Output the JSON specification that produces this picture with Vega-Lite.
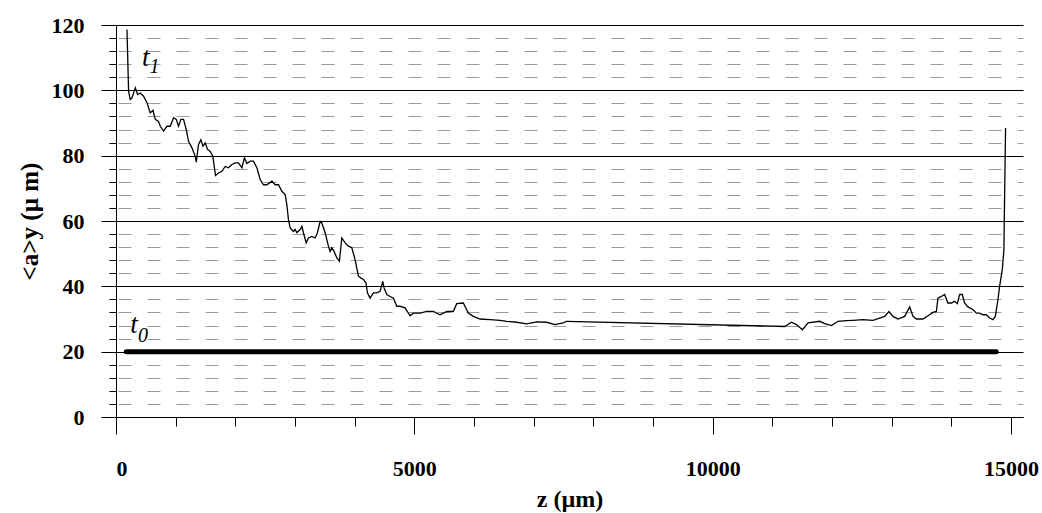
{
  "$schema": "https://vega.github.io/schema/vega-lite/v6.json",
  "autosize": {"type": "none"},
  "padding": {"left": 116, "top": 25, "right": 19, "bottom": 96},
  "width": 907,
  "height": 392,
  "background": "white",
  "config": {"view": {"stroke": null}, "font": "Liberation Serif"},
  "datasets": {
    "t1": [
      {"z": 184, "a": 118.6}, {"z": 211, "a": 99.7}, {"z": 239, "a": 97.2}, {"z": 268, "a": 97.7},
      {"z": 323, "a": 100.8}, {"z": 362, "a": 98.7}, {"z": 407, "a": 99.2}, {"z": 462, "a": 98.2},
      {"z": 519, "a": 96.2}, {"z": 574, "a": 93.1}, {"z": 620, "a": 93.9}, {"z": 658, "a": 91.1},
      {"z": 713, "a": 90.5}, {"z": 742, "a": 89.0}, {"z": 797, "a": 87.5}, {"z": 854, "a": 89.0},
      {"z": 909, "a": 89.0}, {"z": 965, "a": 91.6}, {"z": 1010, "a": 91.1}, {"z": 1048, "a": 89.0},
      {"z": 1088, "a": 91.1}, {"z": 1132, "a": 91.1}, {"z": 1177, "a": 88.0}, {"z": 1216, "a": 84.4},
      {"z": 1273, "a": 82.4}, {"z": 1328, "a": 79.8}, {"z": 1345, "a": 78.0}, {"z": 1383, "a": 83.4},
      {"z": 1423, "a": 84.9}, {"z": 1457, "a": 82.9}, {"z": 1495, "a": 83.9}, {"z": 1534, "a": 81.9},
      {"z": 1579, "a": 81.3}, {"z": 1624, "a": 79.8}, {"z": 1646, "a": 76.7}, {"z": 1668, "a": 73.9},
      {"z": 1718, "a": 74.7}, {"z": 1775, "a": 75.2}, {"z": 1830, "a": 76.7}, {"z": 1885, "a": 76.3},
      {"z": 1942, "a": 77.3}, {"z": 1998, "a": 77.8}, {"z": 2053, "a": 77.8}, {"z": 2110, "a": 76.3},
      {"z": 2153, "a": 79.3}, {"z": 2194, "a": 77.6}, {"z": 2249, "a": 78.3}, {"z": 2304, "a": 78.3},
      {"z": 2361, "a": 76.3}, {"z": 2416, "a": 72.7}, {"z": 2472, "a": 71.1}, {"z": 2528, "a": 71.1},
      {"z": 2612, "a": 72.2}, {"z": 2667, "a": 71.1}, {"z": 2723, "a": 71.1}, {"z": 2780, "a": 69.1},
      {"z": 2835, "a": 68.1}, {"z": 2863, "a": 65.0}, {"z": 2890, "a": 60.4}, {"z": 2919, "a": 57.9},
      {"z": 2974, "a": 56.8}, {"z": 3002, "a": 57.4}, {"z": 3031, "a": 56.4}, {"z": 3086, "a": 57.4},
      {"z": 3115, "a": 58.4}, {"z": 3141, "a": 56.4}, {"z": 3187, "a": 53.3}, {"z": 3225, "a": 54.8},
      {"z": 3282, "a": 55.3}, {"z": 3337, "a": 54.8}, {"z": 3376, "a": 56.4}, {"z": 3421, "a": 59.9},
      {"z": 3449, "a": 59.4}, {"z": 3505, "a": 56.4}, {"z": 3560, "a": 52.3}, {"z": 3588, "a": 50.7},
      {"z": 3617, "a": 51.8}, {"z": 3655, "a": 50.7}, {"z": 3701, "a": 48.7}, {"z": 3744, "a": 47.7},
      {"z": 3784, "a": 54.8}, {"z": 3840, "a": 53.3}, {"z": 3895, "a": 52.3}, {"z": 3952, "a": 51.8},
      {"z": 4007, "a": 48.2}, {"z": 4062, "a": 43.1}, {"z": 4102, "a": 42.6}, {"z": 4146, "a": 42.1},
      {"z": 4191, "a": 41.0}, {"z": 4213, "a": 38.0}, {"z": 4258, "a": 36.4}, {"z": 4313, "a": 38.0},
      {"z": 4370, "a": 38.0}, {"z": 4426, "a": 38.5}, {"z": 4471, "a": 41.5}, {"z": 4493, "a": 39.5},
      {"z": 4538, "a": 37.5}, {"z": 4593, "a": 36.9}, {"z": 4648, "a": 36.4}, {"z": 4705, "a": 33.9},
      {"z": 4761, "a": 33.9}, {"z": 4844, "a": 33.4}, {"z": 4928, "a": 31.0}, {"z": 4983, "a": 31.8},
      {"z": 5096, "a": 31.8}, {"z": 5208, "a": 32.3}, {"z": 5318, "a": 32.3}, {"z": 5430, "a": 31.3},
      {"z": 5543, "a": 32.3}, {"z": 5653, "a": 32.3}, {"z": 5710, "a": 34.7}, {"z": 5821, "a": 34.9},
      {"z": 5904, "a": 31.8}, {"z": 5988, "a": 30.8}, {"z": 6100, "a": 30.0}, {"z": 6268, "a": 29.8},
      {"z": 6435, "a": 29.6}, {"z": 6547, "a": 29.3}, {"z": 6715, "a": 29.0}, {"z": 6882, "a": 28.5},
      {"z": 7050, "a": 29.1}, {"z": 7217, "a": 29.0}, {"z": 7356, "a": 28.3}, {"z": 7495, "a": 28.8},
      {"z": 7552, "a": 29.3}, {"z": 11207, "a": 27.7}, {"z": 11320, "a": 29.0}, {"z": 11403, "a": 28.3},
      {"z": 11504, "a": 26.7}, {"z": 11598, "a": 28.8}, {"z": 11794, "a": 29.3}, {"z": 11877, "a": 28.6},
      {"z": 11990, "a": 28.0}, {"z": 12100, "a": 29.3}, {"z": 12241, "a": 29.5}, {"z": 12351, "a": 29.6},
      {"z": 12519, "a": 29.8}, {"z": 12686, "a": 29.6}, {"z": 12798, "a": 30.3}, {"z": 12882, "a": 30.8},
      {"z": 12954, "a": 32.3}, {"z": 13021, "a": 30.8}, {"z": 13105, "a": 30.0}, {"z": 13217, "a": 30.8},
      {"z": 13301, "a": 33.7}, {"z": 13356, "a": 30.8}, {"z": 13413, "a": 30.0}, {"z": 13523, "a": 30.0},
      {"z": 13635, "a": 31.3}, {"z": 13691, "a": 32.0}, {"z": 13748, "a": 32.3}, {"z": 13774, "a": 36.4},
      {"z": 13831, "a": 36.9}, {"z": 13886, "a": 37.5}, {"z": 13942, "a": 34.9}, {"z": 13999, "a": 34.9},
      {"z": 14054, "a": 35.4}, {"z": 14099, "a": 34.7}, {"z": 14138, "a": 37.5}, {"z": 14183, "a": 37.5},
      {"z": 14221, "a": 34.9}, {"z": 14277, "a": 33.7}, {"z": 14361, "a": 32.9}, {"z": 14418, "a": 31.8},
      {"z": 14473, "a": 31.8}, {"z": 14528, "a": 31.3}, {"z": 14585, "a": 31.3}, {"z": 14640, "a": 30.3},
      {"z": 14696, "a": 29.8}, {"z": 14736, "a": 30.8}, {"z": 14780, "a": 35.9}, {"z": 14808, "a": 40.0},
      {"z": 14853, "a": 45.1}, {"z": 14880, "a": 51.2}, {"z": 14891, "a": 66.6}, {"z": 14908, "a": 88.5}
    ],
    "t0": [{"z": 172, "a": 20}, {"z": 14752, "a": 20}],
    "tlabels": [
      {"z": 435, "a": 107.4, "label": "t"},
      {"z": 239, "a": 25.7, "label": "t"}
    ],
    "subs": [
      {"z": 563, "a": 105.4, "label": "1"},
      {"z": 368, "a": 23.0, "label": "0"}
    ]
  },
  "layer": [
    {
      "data": {"name": "t0"},
      "mark": {"type": "line", "color": "black", "strokeWidth": 5, "strokeCap": "round"},
      "encoding": {
        "x": {
          "field": "z", "type": "quantitative",
          "scale": {"domain": [0, 15200], "nice": false, "zero": false},
          "axis": {
            "values": [0, 1000, 2000, 3000, 4000, 5000, 6000, 7000, 8000, 9000, 10000, 11000, 12000, 13000, 14000, 15000],
            "tickCount": 40,
            "format": "d",
            "labelExpr": "datum.value % 5000 === 0 ? datum.label : ''",
            "labelOverlap": false,
            "labelFont": "Liberation Serif", "labelFontSize": 22, "labelFontWeight": "bold", "labelColor": "black",
            "labelPadding": 24,
            "tickSize": {"condition": {"test": "datum.value % 5000 === 0", "value": 17}, "value": 9},
            "tickColor": "black", "tickWidth": 1,
            "domainColor": "black", "domainWidth": 1,
            "grid": false,
            "title": "z (µm)",
            "titleFont": "Liberation Serif", "titleFontSize": 24, "titleFontWeight": "bold", "titleColor": "black",
            "titlePadding": 8
          }
        },
        "y": {
          "field": "a", "type": "quantitative",
          "scale": {"domain": [0, 120], "nice": false},
          "axis": {
            "values": [0, 4, 8, 12, 16, 20, 24, 28, 32, 36, 40, 44, 48, 52, 56, 60, 64, 68, 72, 76, 80, 84, 88, 92, 96, 100, 104, 108, 112, 116, 120],
            "tickCount": 40,
            "labelExpr": "datum.value % 20 === 0 ? datum.label : ''",
            "labelOverlap": false,
            "labelFont": "Liberation Serif", "labelFontSize": 22, "labelFontWeight": "bold", "labelColor": "black",
            "labelPadding": 17,
            "tickSize": {"condition": {"test": "datum.value % 20 === 0", "value": 15}, "value": 7},
            "tickColor": "black", "tickWidth": 1,
            "domainColor": "black", "domainWidth": 1,
            "grid": true,
            "gridColor": {"condition": {"test": "datum.value % 20 === 0", "value": "black"}, "value": "#9a9a9a"},
            "gridDash": {"condition": {"test": "datum.value % 20 === 0", "value": []}, "value": [13, 16]},
            "gridDashOffset": 27,
            "gridWidth": 1,
            "title": "<a>y  (µ m)",
            "titleFont": "Liberation Serif", "titleFontSize": 25, "titleFontWeight": "bold", "titleColor": "black",
            "titlePadding": 9
          }
        }
      }
    },
    {
      "data": {"name": "t1"},
      "mark": {"type": "line", "color": "black", "strokeWidth": 1.3},
      "encoding": {
        "x": {"field": "z", "type": "quantitative"},
        "y": {"field": "a", "type": "quantitative"}
      }
    },
    {
      "data": {"name": "tlabels"},
      "mark": {"type": "text", "font": "Liberation Serif", "fontStyle": "italic", "fontSize": 27, "align": "left", "baseline": "alphabetic", "color": "black"},
      "encoding": {
        "x": {"field": "z", "type": "quantitative"},
        "y": {"field": "a", "type": "quantitative"},
        "text": {"field": "label"}
      }
    },
    {
      "data": {"name": "subs"},
      "mark": {"type": "text", "font": "Liberation Serif", "fontStyle": "italic", "fontSize": 20, "align": "left", "baseline": "alphabetic", "color": "black"},
      "encoding": {
        "x": {"field": "z", "type": "quantitative"},
        "y": {"field": "a", "type": "quantitative"},
        "text": {"field": "label"}
      }
    }
  ]
}
